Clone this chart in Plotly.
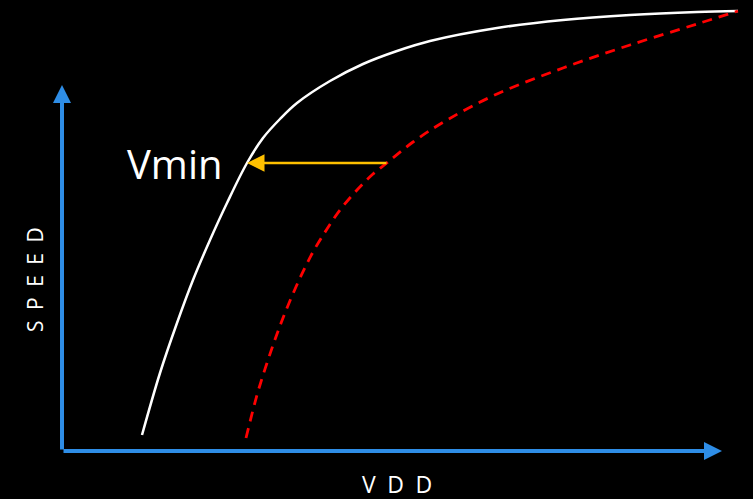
import plotly.graph_objects as go

# Data in chart units (origin at axes corner; x = VDD, y = SPEED)
white_vdd = [80, 98, 115, 131, 148, 165, 185, 201, 218, 235, 268, 301, 335, 368, 435, 501, 568, 635, 676]
white_speed = [16, 78, 128, 171, 211, 248, 288, 313, 332, 348, 370, 387, 400, 410, 423, 431, 436, 439, 440]

red_vdd = [184, 195, 205, 215, 225, 238, 251, 265, 278, 295, 311, 326, 351, 385, 435, 501, 568, 635, 676]
red_speed = [13, 56, 88, 117, 143, 173, 199, 222, 241, 261, 277, 289, 309, 331, 357, 383, 406, 427, 440]

vmin_start = (326, 288)
vmin_end = (185, 288)

axis_blue = "#2E8DE6"

fig = go.Figure()
fig.add_trace(go.Scatter(x=white_vdd, y=white_speed, mode="lines",
                         line=dict(color="white", width=2.5, shape="spline", smoothing=1.0),
                         hoverinfo="skip", showlegend=False))
fig.add_trace(go.Scatter(x=red_vdd, y=red_speed, mode="lines",
                         line=dict(color="#FF0000", width=2.8, dash="10px,7px", shape="spline", smoothing=1.0),
                         hoverinfo="skip", showlegend=False))

# axes arrows
fig.add_annotation(x=0, y=366, ax=0, ay=0, xref="x", yref="y", axref="x", ayref="y",
                   showarrow=True, arrowhead=2, arrowsize=0.9, arrowwidth=4,
                   arrowcolor=axis_blue, text="")
fig.add_annotation(x=660, y=0, ax=0, ay=0, xref="x", yref="y", axref="x", ayref="y",
                   showarrow=True, arrowhead=2, arrowsize=0.9, arrowwidth=4,
                   arrowcolor=axis_blue, text="")
# Vmin arrow
fig.add_annotation(x=vmin_end[0], y=vmin_end[1], ax=vmin_start[0], ay=vmin_start[1],
                   xref="x", yref="y", axref="x", ayref="y",
                   showarrow=True, arrowhead=2, arrowsize=1.4, arrowwidth=2.5,
                   arrowcolor="#FFC000", text="")

sp = "\u2002"
fig.add_annotation(x=113, y=288, xref="x", yref="y", text="Vmin", showarrow=False,
                   font=dict(family="Open Sans", size=40, color="white"))
fig.add_annotation(x=-27, y=171, xref="x", yref="y", text=sp.join("SPEED"), showarrow=False,
                   textangle=-90, font=dict(family="Open Sans", size=21, color="white"))
fig.add_annotation(x=335, y=-33, xref="x", yref="y", text=sp.join("VDD"), showarrow=False,
                   borderpad=0, font=dict(family="Open Sans", size=23, color="white"))

fig.update_layout(
    width=753, height=499,
    margin=dict(l=0, r=0, t=0, b=0),
    paper_bgcolor="black", plot_bgcolor="black",
    xaxis=dict(range=[-62, 691], visible=False, fixedrange=True),
    yaxis=dict(range=[-48, 451], visible=False, fixedrange=True),
)
fig.write_html("out.html", config={"displayModeBar": False})

with open("out.html", "r", encoding="utf-8") as f:
    html = f.read()
html = html.replace("<head>", "<head><style>html,body{margin:0;padding:0;background:black;overflow:hidden;}</style>", 1)
with open("out.html", "w", encoding="utf-8") as f:
    f.write(html)
